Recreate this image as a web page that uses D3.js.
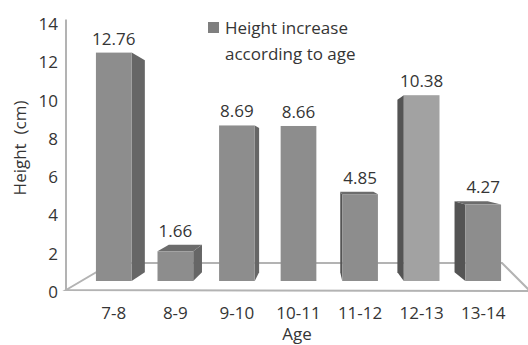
<!DOCTYPE html>
<html>
<head>
<meta charset="utf-8">
<script src="https://cdn.jsdelivr.net/npm/d3@7"></script>
<style>
  html, body { margin: 0; padding: 0; background: #fff; }
  svg { display: block; font-family: "Open Sans", "Noto Sans", sans-serif; }
</style>
</head>
<body>
<svg id="chart" width="528" height="345"></svg>
<script>
// Height gain per age interval
const ages = ["7-8", "8-9", "9-10", "10-11", "11-12", "12-13", "13-14"];
const gains = [12.76, 1.66, 8.69, 8.66, 4.85, 10.38, 4.27];
const yTicks = [0, 2, 4, 6, 8, 10, 12, 14];
const seriesName = ["Height increase", "according to age"];

const W = 528, H = 345;
const svg = d3.select("#chart");
const textColor = "#353535";
const fontSize = 17;

// Layout of the 3-D box
const axisX = 66, floorFront = 290, floorBack = 263;
const floorLeftBack = 112, floorRightBack = 502, floorRight = 528;
const vp = [315, 160];   // vanishing point of the bar depth
const depth = 0.072;     // bar depth as a fraction of the way to vp

// Scales
const x = d3.scaleBand().domain(ages).range([83, 514])
  .paddingInner(0.42).paddingOuter(0.21);
const yBar = d3.scaleLinear().domain([0, 14]).range([281, 281 - 14 * 17.9]);
const yAxis = d3.scaleLinear().domain([0, 14]).range([291.5, 23.5]);

const back = ([px, py]) => [px + depth * (vp[0] - px), py + depth * (vp[1] - py)];
const pts = arr => arr.map(p => p.join(",")).join(" ");

// Floor
svg.append("polygon")
  .attr("points", pts([[axisX, floorFront], [floorLeftBack, floorBack],
                       [floorRightBack, floorBack], [floorRight + 2, floorFront + 1]]))
  .attr("fill", "none").attr("stroke", "#b3b3b3").attr("stroke-width", 2);

// Vertical axis line
svg.append("line")
  .attr("x1", axisX).attr("x2", axisX)
  .attr("y1", yAxis(14) - 4).attr("y2", floorFront)
  .attr("stroke", "#b3b3b3").attr("stroke-width", 2);

// Tick labels
svg.append("g").selectAll("text").data(yTicks).join("text")
  .attr("x", 58).attr("y", d => yAxis(d))
  .attr("text-anchor", "end").attr("dominant-baseline", "central")
  .attr("font-size", fontSize).attr("fill", textColor)
  .text(d => d);

// Bars
const frontFill = (d, i) => ages[i] === "12-13" ? "#a2a2a2" : "#8d8d8d";
const bars = svg.append("g").selectAll("g").data(gains).join("g");

bars.each(function (v, i) {
  const g = d3.select(this);
  const x0 = x(ages[i]), x1 = x0 + x.bandwidth();
  const yt = yBar(v), yb = yBar(0);
  const [bx0t, byt] = back([x0, yt]);
  const [bx1t] = back([x1, yt]);
  const [bx0b, byb] = back([x0, yb]);
  const [bx1b] = back([x1, yb]);

  if (x1 < vp[0] - 1) {
    g.append("polygon")
      .attr("points", pts([[x1, yt], [bx1t, byt], [bx1b, byb], [x1, yb]]))
      .attr("fill", "#666666");
  } else if (x0 > vp[0] + 1) {
    g.append("polygon")
      .attr("points", pts([[x0, yt], [bx0t, byt], [bx0b, byb], [x0, yb]]))
      .attr("fill", "#545454");
  }
  if (yt > vp[1]) {
    g.append("polygon")
      .attr("points", pts([[x0, yt], [x1, yt], [bx1t, byt], [bx0t, byt]]))
      .attr("fill", "#6c6c6c");
  }
  g.append("rect")
    .attr("x", x0).attr("y", yt)
    .attr("width", x1 - x0).attr("height", yb - yt)
    .attr("fill", frontFill(v, i));

  g.append("text")
    .attr("x", (x0 + x1) / 2).attr("y", Math.min(yt, byt) - 14.5)
    .attr("text-anchor", "middle").attr("dominant-baseline", "central")
    .attr("font-size", fontSize).attr("fill", textColor)
    .text(v.toFixed(2));
});

// Category labels
svg.append("g").selectAll("text").data(ages).join("text")
  .attr("x", d => x(d) + x.bandwidth() / 2).attr("y", 312)
  .attr("text-anchor", "middle").attr("dominant-baseline", "central")
  .attr("font-size", fontSize).attr("fill", textColor)
  .text(d => d);

// Axis titles
svg.append("text")
  .attr("x", 297).attr("y", 333.5)
  .attr("text-anchor", "middle").attr("dominant-baseline", "central")
  .attr("font-size", fontSize).attr("fill", textColor)
  .text("Age");

svg.append("text")
  .attr("transform", "translate(19,148) rotate(-90)")
  .attr("text-anchor", "middle").attr("dominant-baseline", "central")
  .attr("font-size", fontSize).attr("fill", textColor)
  .attr("xml:space", "preserve")
  .text("Height  (cm)");

// Legend
const legend = svg.append("g");
legend.append("rect")
  .attr("x", 208).attr("y", 22).attr("width", 11).attr("height", 11)
  .attr("fill", "#7f7f7f");
legend.selectAll("text").data(seriesName).join("text")
  .attr("x", 225).attr("y", (d, i) => 27.5 + i * 26)
  .attr("dominant-baseline", "central")
  .attr("font-size", fontSize).attr("fill", textColor)
  .text(d => d);
</script>
</body>
</html>
